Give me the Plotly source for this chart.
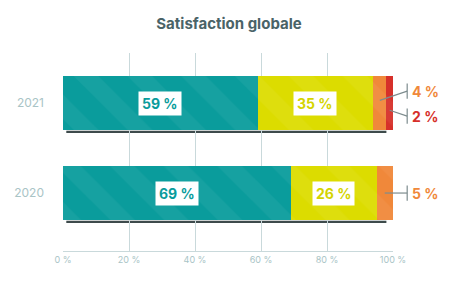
import plotly.graph_objects as go

years = ["2020", "2021"]
very_satisfied = [69, 59]
satisfied = [26, 35]
unsatisfied = [5, 4]
very_unsatisfied = [0, 2]
x_ticks = [0, 20, 40, 60, 80, 100]

series = [
    ("Très satisfait", very_satisfied, "#0a9c9c", "#0a9c9c"),
    ("Satisfait", satisfied, "#dcdc00", "#d4d400"),
    ("Peu satisfait", unsatisfied, "#f0883a", "#f0883a"),
    ("Pas satisfait", very_unsatisfied, "#d6302a", "#d6302a"),
]

BAR_W = 0.61
Y_RANGE = [-0.644, 1.556]
X_RANGE = [0, 100]
FONT = "Inter"


def px(x):
    return (x - X_RANGE[0]) / (X_RANGE[1] - X_RANGE[0])


def py(y):
    return (y - Y_RANGE[0]) / (Y_RANGE[1] - Y_RANGE[0])


fig = go.Figure()

for name, vals, col, _ in series:
    fig.add_trace(go.Bar(
        y=years, x=vals, name=name, orientation="h", width=BAR_W,
        marker=dict(color=col, line=dict(width=0),
                    pattern=dict(shape="\\", fgcolor="white", fgopacity=0.05,
                                 size=38, solidity=0.45)),
        hoverinfo="skip", showlegend=False,
    ))

annotations = []
shapes = []

# shadows under bars
for i, y in enumerate(years):
    shapes.append(dict(type="line", xref="x", yref="y", x0=1, x1=98,
                       y0=i - BAR_W / 2 - 0.015, y1=i - BAR_W / 2 - 0.015,
                       line=dict(color="#3e4b4c", width=2.2), layer="below"))

# inner labels (boxed)
for i, y in enumerate(years):
    start = 0
    for name, vals, col, tcol in series:
        v = vals[i]
        if v >= 10:
            annotations.append(dict(
                x=start + v / 2, y=i, xref="x", yref="y", text=f"<b>{v} %</b>",
                showarrow=False, bgcolor="white", borderpad=3,
                font=dict(family=FONT, size=14, color=tcol)))
        start += v

# outer small labels with leader lines
LX = 104.3
small = [
    # (year index, series index, label dy, leader start dy)
    (1, 2, 0.133, 0.03),
    (1, 3, -0.145, -0.08),
    (0, 2, 0.0, 0.0),
]
for i, s, dy, sdy in small:
    vals = series[s][1]
    start = sum(series[k][1][i] for k in range(s))
    v = vals[i]
    cx = start + v / 2
    shapes.append(dict(type="line", xref="paper", yref="paper",
                       x0=px(cx), x1=px(LX), y0=py(i + sdy), y1=py(i + dy),
                       line=dict(color="#7d8c8e", width=1.2)))
    shapes.append(dict(type="line", xref="paper", yref="paper",
                       x0=px(LX), x1=px(LX),
                       y0=py(i + dy - 0.085), y1=py(i + dy + 0.085),
                       line=dict(color="#7d8c8e", width=1.2)))
    annotations.append(dict(
        x=px(LX + 0.8), y=py(i + dy), xref="paper", yref="paper",
        text=f"<b>{v} %</b>", xanchor="left", yanchor="middle",
        showarrow=False,
        font=dict(family=FONT, size=14, color=series[s][3])))

fig.update_layout(
    width=458, height=290,
    margin=dict(l=63, r=65, t=53, b=39),
    paper_bgcolor="white", plot_bgcolor="white",
    barmode="stack", bargap=0,
    title=dict(text="<b>Satisfaction globale</b>", x=0.5, xanchor="center",
               y=1 - 24 / 290, yanchor="middle", yref="container",
               font=dict(family=FONT, size=15, color="#4a6367")),
    xaxis=dict(range=X_RANGE, tickvals=x_ticks,
               ticktext=[f"{t} %" for t in x_ticks],
               showgrid=True, gridcolor="#c9d9db", gridwidth=1,
               showline=True, linecolor="#c9d9db", linewidth=1,
               zeroline=False, ticks="",
               tickfont=dict(family=FONT, size=9, color="#a9c4c6")),
    yaxis=dict(type="category", categoryorder="array", categoryarray=years,
               range=Y_RANGE, showgrid=False, zeroline=False,
               ticks="", ticklabelstandoff=18,
               tickfont=dict(family=FONT, size=12, color="#a9c4c6")),
    annotations=annotations, shapes=shapes,
)

fig.write_html("out.html")
